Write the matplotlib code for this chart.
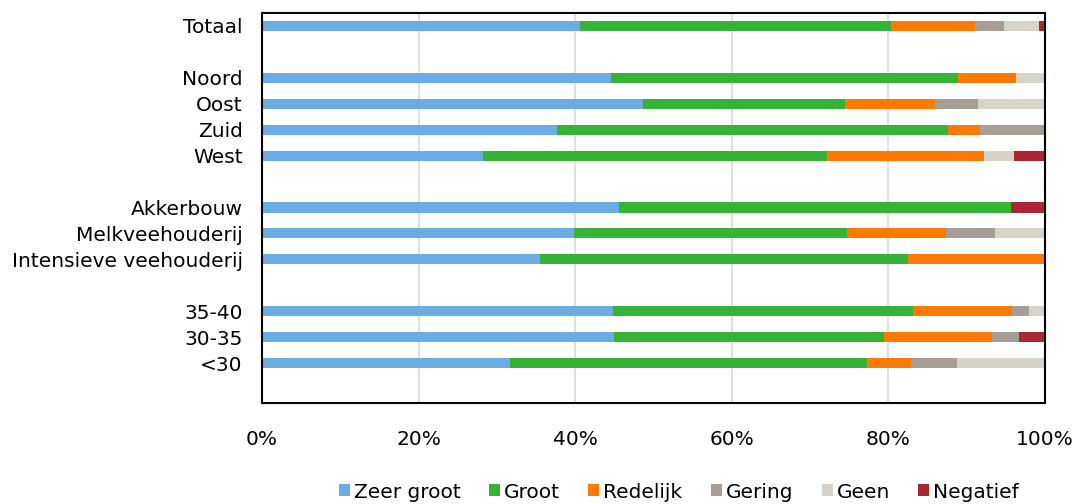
import matplotlib
matplotlib.use("Agg")
import matplotlib.pyplot as plt
import numpy as np

categories = ["Totaal", "Noord", "Oost", "Zuid", "West",
              "Akkerbouw", "Melkveehouderij", "Intensieve veehouderij",
              "35-40", "30-35", "<30"]
series_names = ["Zeer groot", "Groot", "Redelijk", "Gering", "Geen", "Negatief"]

zeer_groot = [40.6, 44.6, 48.6, 37.7, 28.2, 45.6, 39.8, 35.5, 44.8, 45.0, 31.7]
groot      = [39.7, 44.3, 25.8, 49.9, 43.9, 50.0, 34.9, 47.0, 38.3, 34.4, 45.6]
redelijk   = [10.7,  7.4, 11.5,  4.1, 20.1,  0.0, 12.6, 17.5, 12.7, 13.8,  5.6]
gering     = [ 3.7,  0.0,  5.6,  8.3,  0.0,  0.0,  6.3,  0.0,  2.1,  3.5,  5.8]
geen       = [ 4.5,  3.7,  8.5,  0.0,  3.8,  0.0,  6.4,  0.0,  2.1,  0.0, 11.3]
negatief   = [ 0.8,  0.0,  0.0,  0.0,  4.0,  4.4,  0.0,  0.0,  0.0,  3.3,  0.0]

# layout: row slots (gaps between groups)
slots = [0, 2, 3, 4, 5, 7, 8, 9, 11, 12, 13]
colors = ["#6AADE4", "#35B335", "#FF7A00", "#A59D96", "#D6D3CB", "#AA2631"]

plt.rcParams['font.family'] = ['DejaVu Sans']
FS = 14.5

fig = plt.figure(figsize=(10.77, 5.04), dpi=100)
ax = fig.add_axes([262/1077, 1 - 402.5/504, (1045-262)/1077, (402.5-12.5)/504])

data = [zeer_groot, groot, redelijk, gering, geen, negatief]
y = np.array(slots, dtype=float)
left = np.zeros(len(categories))
for name, vals, col in zip(series_names, data, colors):
    v = np.array(vals)
    ax.barh(y, v, left=left, height=0.39, color=col, label=name, linewidth=0)
    left += v

ax.set_xlim(0, 100)
ax.set_ylim(14.52, -0.52)
ax.set_yticks(y)
ax.set_yticklabels(categories, fontsize=FS)
ax.set_xticks([0, 20, 40, 60, 80, 100])
ax.set_xticklabels(["0%", "20%", "40%", "60%", "80%", "100%"], fontsize=FS)
ax.tick_params(axis='both', length=0)
ax.tick_params(axis='x', pad=20)
ax.tick_params(axis='y', pad=14)
ax.grid(axis='x', color='#D9D9D9', linewidth=1.2)
ax.set_axisbelow(True)
for s in ax.spines.values():
    s.set_color('black')
    s.set_linewidth(1.5)

fig.legend(loc='center', bbox_to_anchor=(679/1077, 1 - 492/504), ncol=6,
           frameon=False, fontsize=FS, handlelength=0.55, handleheight=0.55,
           handletextpad=0.2, columnspacing=1.4, borderaxespad=0)

fig.savefig("out.png", dpi=100)
